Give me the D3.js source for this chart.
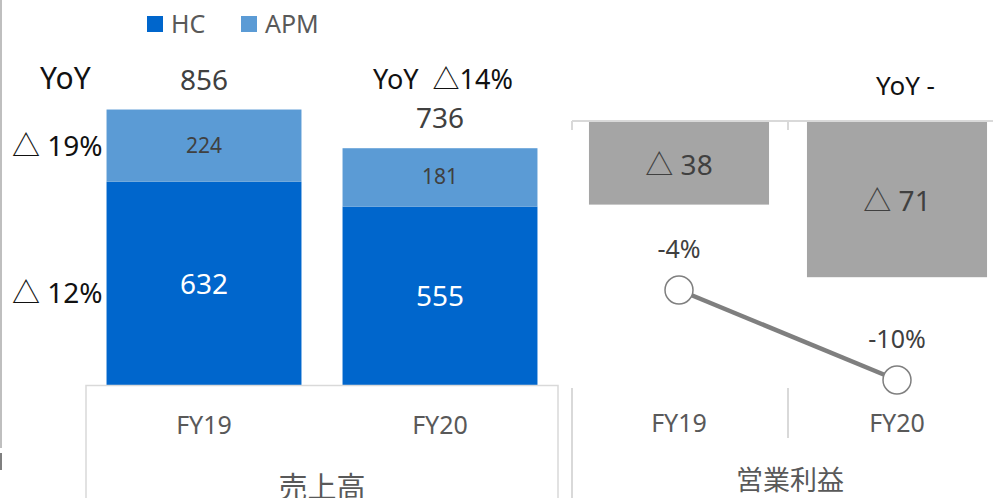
<!DOCTYPE html>
<html>
<head>
<meta charset="utf-8">
<script src="https://cdn.jsdelivr.net/npm/d3@7.9.0/dist/d3.min.js"></script>
<style>
  html, body { margin: 0; padding: 0; background: #fff; }
  svg text { font-family: "Noto Sans", "Noto Sans CJK JP", sans-serif; white-space: pre; }
</style>
</head>
<body>
<svg id="chart" width="993" height="498"></svg>
<script>
// data
const categories = ["FY19", "FY20"];
const hcSales = [632, 555];
const apmSales = [224, 181];
const hcYoY = "△ 12%";
const apmYoY = "△ 19%";
const salesYoY = ["YoY", "YoY  △14%"];
const opIncome = [-38, -71];
const opMargin = [-4, -10];
const opYoY = "YoY -";
const groupNames = ["売上高", "営業利益"];
const seriesNames = ["HC", "APM"];

const colors = { HC: "#0066cc", APM: "#5b9bd5", op: "#a5a5a5", line: "#7f7f7f", axis: "#d9d9d9" };

const svg = d3.select("#chart");
const W = 993, H = 498;

// ---- left chart : sales stacked bars ----
const xL = d3.scaleBand().domain(categories).range([86, 558])
    .paddingInner(0.174).paddingOuter(0.087);
const yL = d3.scaleLinear().domain([0, 1000]).range([385.5, 385.5 - 322.4]);

const salesRows = categories.map((c, i) => ({ cat: c, HC: hcSales[i], APM: apmSales[i] }));
const stack = d3.stack().keys(seriesNames)(salesRows);

const left = svg.append("g");
left.selectAll(".layer")
    .data(stack)
    .enter().append("g")
    .attr("fill", d => colors[d.key])
    .selectAll("rect")
    .data(d => d)
    .enter().append("rect")
    .attr("x", d => xL(d.data.cat))
    .attr("y", d => yL(d[1]))
    .attr("width", xL.bandwidth())
    .attr("height", d => yL(d[0]) - yL(d[1]));

// segment labels
stack.forEach(layer => {
    left.selectAll(".lbl-" + layer.key)
        .data(layer)
        .enter().append("text")
        .attr("x", d => xL(d.data.cat) + xL.bandwidth() / 2)
        .attr("y", d => (yL(d[0]) + yL(d[1])) / 2 + (layer.key === "HC" ? 10 : 7))
        .attr("text-anchor", "middle")
        .style("font-size", layer.key === "HC" ? "28px" : "21px")
        .style("fill", layer.key === "HC" ? "#ffffff" : "#404040")
        .text(d => d.data[layer.key]);
});

// totals
const totals = salesRows.map(d => d.HC + d.APM);
left.selectAll(".total")
    .data(totals)
    .enter().append("text")
    .attr("x", (d, i) => xL(categories[i]) + xL.bandwidth() / 2)
    .attr("y", d => yL(d) - 20)
    .attr("text-anchor", "middle")
    .style("font-size", "28px")
    .style("fill", "#404040")
    .text(d => d);

// YoY annotations
left.append("text").attr("x", 40).attr("y", 89)
    .style("font-size", "30px").style("fill", "#111").text(salesYoY[0]);
left.append("text").attr("x", 373).attr("y", 89)
    .style("font-size", "27px").style("fill", "#111").text(salesYoY[1]);
left.append("text").attr("x", 12).attr("y", 156)
    .style("font-size", "28px").style("fill", "#111").text(apmYoY);
left.append("text").attr("x", 12).attr("y", 303)
    .style("font-size", "28px").style("fill", "#111").text(hcYoY);

// category axis box
const [l0, l1] = xL.range();
const axL = left.append("g").attr("transform", `translate(0, ${yL(0)})`)
    .call(d3.axisBottom(xL).tickSize(0));
axL.select(".domain").remove();
axL.selectAll("text").style("font-size", "25px").style("fill", "#595959")
    .attr("dy", 0).attr("y", 48);
left.append("path")
    .attr("d", `M${l0},${H}V${yL(0)}H${l1}V${H}`)
    .attr("fill", "none").attr("stroke", colors.axis).attr("stroke-width", 1.5);
left.append("text").attr("x", (l0 + l1) / 2).attr("y", 498)
    .attr("text-anchor", "middle").style("font-size", "29px").style("fill", "#595959")
    .text(groupNames[0]);

// legend
const legend = svg.append("g");
const legendX = [147, 241];
seriesNames.forEach((s, i) => {
    legend.append("rect").attr("x", legendX[i]).attr("y", 16)
        .attr("width", 16).attr("height", 16).attr("fill", colors[s]);
    legend.append("text").attr("x", legendX[i] + 24).attr("y", 33)
        .style("font-size", "25px").style("fill", "#595959").text(s);
});

// thin frame on the left edge
svg.append("line").attr("x1", 1).attr("x2", 1).attr("y1", 0).attr("y2", 448)
    .attr("stroke", "#bfbfbf").attr("stroke-width", 2);
svg.append("line").attr("x1", 1).attr("x2", 1).attr("y1", 453).attr("y2", 470)
    .attr("stroke", "#7f7f7f").attr("stroke-width", 2);

// ---- right chart : operating income ----
const xR = d3.scaleBand().domain(categories).range([570, 1006])
    .paddingInner(0.174).paddingOuter(0.087);
const yR = d3.scaleLinear().domain([-100, 0]).range([121 + 220, 121]);
const yP = d3.scaleLinear().domain([-10, -4]).range([380, 290]);

const right = svg.append("g");
right.selectAll(".op")
    .data(opIncome)
    .enter().append("rect")
    .attr("x", (d, i) => xR(categories[i]))
    .attr("y", yR(0))
    .attr("width", xR.bandwidth())
    .attr("height", d => yR(d) - yR(0))
    .attr("fill", colors.op);

right.selectAll(".op-lbl")
    .data(opIncome)
    .enter().append("text")
    .attr("x", (d, i) => xR(categories[i]) + xR.bandwidth() / 2)
    .attr("y", d => (yR(0) + yR(d)) / 2 + 12)
    .attr("text-anchor", "middle")
    .style("font-size", "28px").style("fill", "#404040")
    .text(d => "△ " + Math.abs(d));

// zero axis with ticks
const midR = xR(categories[1]) - xR.step() * xR.paddingInner() / 2;
const axR = right.append("g").attr("transform", `translate(0, ${yR(0)})`);
axR.append("line").attr("x1", 572).attr("x2", W).attr("y1", 0).attr("y2", 0)
    .attr("stroke", colors.axis).attr("stroke-width", 2);
axR.selectAll(".tk")
    .data([572, midR])
    .enter().append("line")
    .attr("x1", d => d).attr("x2", d => d).attr("y1", 0).attr("y2", 9)
    .attr("stroke", colors.axis).attr("stroke-width", 2);

right.append("text").attr("x", 876).attr("y", 95)
    .style("font-size", "26px").style("fill", "#111").text(opYoY);

// margin line
const cx = c => xR(c) + xR.bandwidth() / 2;
right.append("path")
    .datum(opMargin)
    .attr("d", d3.line().x((d, i) => cx(categories[i])).y(d => yP(d)))
    .attr("fill", "none").attr("stroke", colors.line).attr("stroke-width", 4.5);
right.selectAll(".pt")
    .data(opMargin)
    .enter().append("circle")
    .attr("cx", (d, i) => cx(categories[i]))
    .attr("cy", d => yP(d))
    .attr("r", 14)
    .attr("fill", "#fff").attr("stroke", colors.line).attr("stroke-width", 1.5);
right.selectAll(".pt-lbl")
    .data(opMargin)
    .enter().append("text")
    .attr("x", (d, i) => cx(categories[i]))
    .attr("y", d => yP(d) - 32)
    .attr("text-anchor", "middle")
    .style("font-size", "25px").style("fill", "#404040")
    .text(d => d + "%");

// category labels
const axR2 = right.append("g").attr("transform", "translate(0, 388)")
    .call(d3.axisBottom(xR).tickSize(0));
axR2.select(".domain").remove();
axR2.selectAll("text").style("font-size", "25px").style("fill", "#595959")
    .attr("dy", 0).attr("y", 44);
right.append("line").attr("x1", 572).attr("x2", 572).attr("y1", 388).attr("y2", H)
    .attr("stroke", colors.axis).attr("stroke-width", 2);
right.append("line").attr("x1", midR).attr("x2", midR).attr("y1", 388).attr("y2", 438)
    .attr("stroke", colors.axis).attr("stroke-width", 2);
right.append("text").attr("x", 790).attr("y", 490)
    .attr("text-anchor", "middle").style("font-size", "27px").style("fill", "#595959")
    .text(groupNames[1]);
</script>
</body>
</html>
